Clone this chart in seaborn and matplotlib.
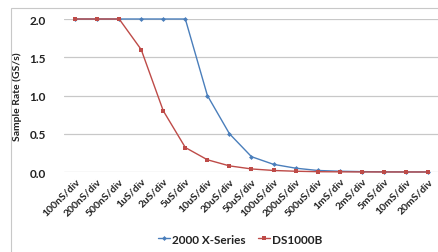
import matplotlib
matplotlib.use("Agg")
import matplotlib.pyplot as plt
import seaborn as sns
import pandas as pd
from matplotlib.patches import Rectangle

categories = ["100nS/div", "200nS/div", "500nS/div", "1uS/div", "2uS/div", "5uS/div",
              "10uS/div", "20uS/div", "50uS/div", "100uS/div", "200uS/div", "500uS/div",
              "1mS/div", "2mS/div", "5mS/div", "10mS/div", "20mS/div"]
x2000 = [2.0, 2.0, 2.0, 2.0, 2.0, 2.0, 1.0, 0.5, 0.2, 0.1, 0.05, 0.02, 0.01, 0.005, 0.002, 0.001, 0.0005]
ds1000b = [2.0, 2.0, 2.0, 1.6, 0.8, 0.32, 0.16, 0.08, 0.04, 0.02, 0.01, 0.004, 0.002, 0.001, 0.0004, 0.0002, 0.0001]
yticks = [0.0, 0.5, 1.0, 1.5, 2.0]

sns.set_theme(style="white")
plt.rcParams['font.family'] = ['Lato', 'DejaVu Sans']

df = pd.DataFrame({
    "cat": categories * 2,
    "idx": list(range(len(categories))) * 2,
    "val": x2000 + ds1000b,
    "series": ["2000 X-Series"] * len(categories) + ["DS1000B"] * len(categories),
})

fig = plt.figure(figsize=(4.39, 2.53), dpi=100)
fig.patches.append(Rectangle((11/439, -0.01), 1.0, 1 - 9/253 + 0.01, transform=fig.transFigure,
                             fill=False, edgecolor="#c8c8c8", linewidth=0.8, zorder=0))
ax = fig.add_axes([64/439, 1 - 173/253, (439 - 64)/439, (173 - 20)/253])

blue = "#4A7EBB"
red = "#BE4B48"
sns.lineplot(data=df[df.series == "2000 X-Series"], x="idx", y="val", ax=ax, color=blue,
             marker="D", markersize=2.5, markeredgewidth=0, linewidth=1.0, clip_on=False,
             label="2000 X-Series", zorder=3)
sns.lineplot(data=df[df.series == "DS1000B"], x="idx", y="val", ax=ax, color=red,
             marker="s", markersize=3.5, markeredgewidth=0, linewidth=1.0, clip_on=False,
             label="DS1000B", zorder=4)

ax.set_xlim(-0.5, len(categories) - 0.5)
ax.set_ylim(0, 2.0)
ax.set_yticks(yticks)
ax.set_yticklabels([f"{v:.1f}" for v in yticks], fontsize=8.5, fontweight="bold", color="#222222")
ax.set_xticks(range(len(categories)))
ax.set_xticklabels(categories, rotation=45, ha="right", rotation_mode="anchor",
                   fontsize=7.5, fontweight="bold", color="#222222")
ax.tick_params(axis="x", length=0, pad=3)
ax.tick_params(axis="y", length=0, pad=13)
ax.grid(axis="y", color="#c8c8c8", linewidth=0.9)
ax.set_axisbelow(True)
for s in ax.spines.values():
    s.set_visible(False)
ax.set_xlabel("")
ax.set_ylabel("Sample Rate (GS/s)", fontsize=7.5, fontweight="bold", color="#222222", labelpad=5)

leg = ax.legend(loc="center", bbox_to_anchor=(0.5 - 0.03, (173 - 240) / 153), ncol=2,
                frameon=False, fontsize=8.5, handlelength=1.0, handletextpad=0.2,
                columnspacing=1.0)
for t in leg.get_texts():
    t.set_fontweight("bold")
    t.set_color("#222222")

fig.savefig("out.png", dpi=100)
